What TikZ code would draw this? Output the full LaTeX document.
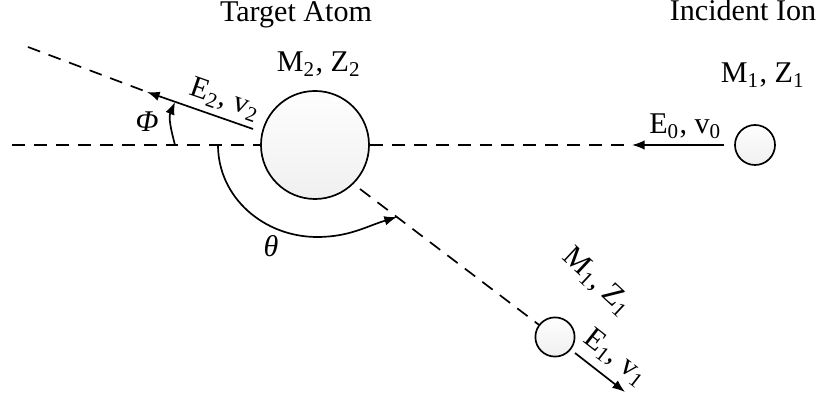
\documentclass[tikz,border=0pt]{standalone}
\usepackage{fontspec}
\setmainfont{Liberation Serif}
\usetikzlibrary{arrows.meta}

\begin{document}
\begin{tikzpicture}[
  x=0.0125cm, y=-0.0125cm,
  font=\fontsize{10.7}{13}\selectfont,
  line width=0.6pt,
  ball/.style={circle, draw, top color=gray!1, bottom color=gray!12, inner sep=0pt},
  track/.style={dash pattern=on 4.6pt off 3.2pt},
  tag/.style={inner sep=0pt},
  >={Latex[length=4.5pt,width=3.4pt]}
]
  \useasboundingbox (0,0) rectangle (822,400);

  % Particles
  \node[ball, minimum size=1.35cm] (atom) at (315,145) {};
  \node[ball, minimum size=0.5cm] (ion) at (755,145) {};
  \node[ball, minimum size=0.49cm] (scat) at (555,337) {};

  % Titles
  \node[anchor=base] (atomtitle) at (296,22) {Target Atom};
  \node[anchor=base] (iontitle) at (743,21) {Incident Ion};
  \node[anchor=base] (atommass) at (319,72) {M\textsubscript{2}, Z\textsubscript{2}};
  \node[anchor=base] (ionmass) at (763,83) {M\textsubscript{1}, Z\textsubscript{1}};
  \node[tag, rotate=-43] (scatmass) at (597,282) {M\textsubscript{1}, Z\textsubscript{1}};

  % Points on the tracks
  \coordinate (hl) at (12,145);
  \coordinate (hr) at (632,145);
  \coordinate (rfar) at (28,47);
  \coordinate (rtip) at (147,92);
  \coordinate (rstart) at (253,129);
  \coordinate (sstart) at (360,189);
  \coordinate (e1s) at (575,353);
  \coordinate (e1t) at (625,392);

  % Tracks
  \draw[track] (hl) -- (atom.west);
  \draw[track] (atom.east) -- (hr);
  \draw[track] (rfar) -- (rtip);
  \draw[track] (sstart) -- (scat);

  % Velocities
  \draw[->] ([xshift=-0.125cm]ion.west) -- node[tag, above=2pt, pos=0.42] (e0) {E\textsubscript{0}, v\textsubscript{0}} (hr);
  \draw[->] (rstart) -- node[tag, above=2pt, sloped, pos=0.32] (e2) {E\textsubscript{2}, v\textsubscript{2}} (rtip);
  \draw[->] (e1s) -- node[tag, above=3pt, sloped, pos=0.55] (e1) {E\textsubscript{1}, v\textsubscript{1}} (e1t);

  % Angles
  \coordinate (ts) at (218,145);
  \coordinate (tb) at (317,237);
  \coordinate (tt) at (397,217);
  \draw[->] (ts) to[out=-90, in=180] (tb) to[out=0, in=197] (tt);
  \node (theta) at (271,246) {\itshape θ};

  \coordinate (ps) at (175,145);
  \coordinate (pt) at (175,102);
  \draw[->] (ps) to[out=105, in=-113] (pt);
  \node (phi) at (147,122) {\itshape Φ};

\end{tikzpicture}
\end{document}
